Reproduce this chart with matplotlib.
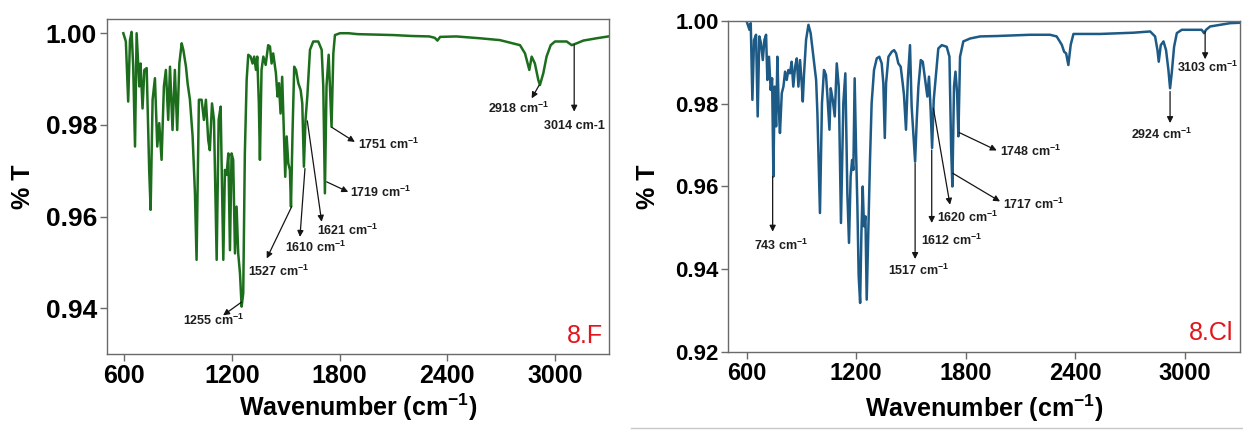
import matplotlib
matplotlib.use('Agg')
import matplotlib.pyplot as plt
from matplotlib.lines import Line2D

plt.rcParams['font.family'] = ['Liberation Sans', 'DejaVu Sans']
plt.rcParams['mathtext.fontset'] = 'custom'
plt.rcParams['mathtext.rm'] = 'Liberation Sans'
plt.rcParams['mathtext.bf'] = 'Liberation Sans:bold'
plt.rcParams['mathtext.it'] = 'Liberation Sans:italic'

# ---- 8.F spectrum (wavenumber, %T) ----
wn_f = [595, 609, 622, 632, 641, 650, 660, 669, 684, 691, 702, 712, 725, 739, 747,
        758, 771, 784, 795, 808, 821, 832, 845, 855, 869, 882, 895, 907, 920, 929,
        944, 953, 966, 981, 994, 1003, 1016, 1031, 1044, 1055, 1068, 1077, 1089, 1100,
        1115, 1126, 1137, 1152, 1161, 1170, 1180, 1189, 1198, 1207, 1217, 1226, 1235,
        1245, 1254, 1263, 1272, 1282, 1291, 1304, 1315, 1324, 1334, 1341, 1350, 1356,
        1365, 1375, 1388, 1402, 1412, 1421, 1430, 1445, 1454, 1462, 1471, 1480, 1490,
        1497, 1505, 1514, 1523, 1529, 1538, 1547, 1557, 1570, 1583, 1592, 1601, 1610,
        1620, 1635, 1653, 1681, 1700, 1709, 1718, 1727, 1739, 1746, 1755, 1765, 1774,
        1802, 1850, 1900, 2000, 2100, 2200, 2300, 2330, 2345, 2360, 2450, 2550, 2582,
        2693, 2805, 2833, 2857, 2870, 2888, 2907, 2916, 2935, 2953, 2976, 3000, 3065,
        3093, 3121, 3158, 3232, 3297]
t_f = [1.0000, 0.9982, 0.9851, 0.9985, 1.0003, 0.9927, 0.9753, 1.0000, 0.9884, 0.9934,
       0.9836, 0.9920, 0.9924, 0.9702, 0.9615, 0.9855, 0.9902, 0.9753, 0.9804, 0.9724,
       0.9884, 0.9920, 0.9811, 0.9927, 0.9789, 0.9920, 0.9789, 0.9934, 0.9978, 0.9964,
       0.9927, 0.9891, 0.9855, 0.9775, 0.9651, 0.9506, 0.9855, 0.9855, 0.9811, 0.9855,
       0.9767, 0.9745, 0.9847, 0.9811, 0.9506, 0.9811, 0.9840, 0.9506, 0.9702, 0.9691,
       0.9738, 0.9527, 0.9738, 0.9724, 0.9520, 0.9622, 0.9520, 0.9476, 0.9404, 0.9433,
       0.9738, 0.9898, 0.9953, 0.9949, 0.9934, 0.9949, 0.9920, 0.9949, 0.9847, 0.9724,
       0.9920, 0.9949, 0.9931, 0.9974, 0.9971, 0.9934, 0.9956, 0.9913, 0.9862, 0.9891,
       0.9825, 0.9905, 0.9775, 0.9687, 0.9775, 0.9716, 0.9702, 0.9622, 0.9789, 0.9927,
       0.9920, 0.9891, 0.9876, 0.9847, 0.9709, 0.9811, 0.9862, 0.9964, 0.9982, 0.9982,
       0.9964, 0.9884, 0.9651, 0.9884, 0.9953, 0.9884, 0.9796, 0.9956, 0.9996, 1.0000,
       1.0000, 0.9998, 0.9997, 0.9996, 0.9994, 0.9993, 0.9990, 0.9984, 0.9992, 0.9993,
       0.9990, 0.9989, 0.9985, 0.9974, 0.9956, 0.9920, 0.9949, 0.9934, 0.9898, 0.9887,
       0.9913, 0.9949, 0.9974, 0.9982, 0.9982, 0.9974, 0.9978, 0.9984, 0.9989, 0.9993]

# ---- 8.Cl spectrum ----
wn_cl = [600, 615, 622, 631, 640, 651, 660, 669, 678, 688, 697, 706, 713, 722, 731,
         739, 746, 753, 761, 768, 775, 782, 792, 801, 810, 819, 828, 837, 846, 855,
         865, 874, 883, 892, 901, 907, 914, 925, 938, 950, 965, 980, 987, 1001, 1012,
         1023, 1034, 1042, 1053, 1060, 1071, 1082, 1093, 1104, 1116, 1129, 1140, 1151,
         1160, 1169, 1177, 1184, 1191, 1199, 1206, 1213, 1221, 1228, 1235, 1242, 1250,
         1257, 1266, 1275, 1284, 1297, 1312, 1326, 1339, 1348, 1356, 1363, 1376, 1394,
         1407, 1418, 1430, 1443, 1454, 1461, 1472, 1482, 1494, 1503, 1513, 1522, 1531,
         1540, 1553, 1564, 1576, 1589, 1598, 1607, 1615, 1624, 1637, 1649, 1668, 1695,
         1710, 1719, 1726, 1735, 1743, 1752, 1759, 1768, 1786, 1823, 1878, 1969, 2151,
         2261, 2297, 2325, 2338, 2349, 2361, 2374, 2389, 2535, 2717, 2809, 2836, 2849,
         2856, 2867, 2882, 2896, 2909, 2918, 2927, 2940, 2955, 2982, 3091, 3104, 3115,
         3137, 3247, 3301]
t_cl = [0.9998, 0.9978, 0.9994, 0.9809, 0.9953, 0.9966, 0.9769, 0.9962, 0.9946, 0.9905,
        0.9954, 0.9966, 0.9857, 0.9913, 0.9833, 0.9861, 0.9624, 0.9841, 0.9745, 0.9913,
        0.9793, 0.9729, 0.9825, 0.9841, 0.9877, 0.9857, 0.9881, 0.9873, 0.9901, 0.9841,
        0.9889, 0.9909, 0.9841, 0.9905, 0.9849, 0.9805, 0.9873, 0.9954, 0.9990, 0.9970,
        0.9913, 0.9857, 0.9777, 0.9536, 0.9801, 0.9881, 0.9869, 0.9817, 0.9737, 0.9837,
        0.9809, 0.9769, 0.9897, 0.9841, 0.9512, 0.9801, 0.9873, 0.9584, 0.9464, 0.9624,
        0.9664, 0.9640, 0.9861, 0.9681, 0.9552, 0.9384, 0.9319, 0.9488, 0.9600, 0.9504,
        0.9528, 0.9327, 0.9496, 0.9664, 0.9801, 0.9881, 0.9909, 0.9913, 0.9897, 0.9849,
        0.9717, 0.9849, 0.9913, 0.9925, 0.9929, 0.9921, 0.9897, 0.9889, 0.9849, 0.9821,
        0.9737, 0.9857, 0.9941, 0.9793, 0.9721, 0.9660, 0.9761, 0.9841, 0.9905, 0.9901,
        0.9861, 0.9817, 0.9865, 0.9785, 0.9693, 0.9809, 0.9873, 0.9933, 0.9941, 0.9937,
        0.9913, 0.9697, 0.9600, 0.9841, 0.9877, 0.9825, 0.9721, 0.9913, 0.9950, 0.9957,
        0.9962, 0.9963, 0.9966, 0.9966, 0.9962, 0.9942, 0.9925, 0.9921, 0.9893, 0.9942,
        0.9968, 0.9968, 0.9971, 0.9974, 0.9962, 0.9929, 0.9901, 0.9941, 0.9950, 0.9929,
        0.9881, 0.9837, 0.9873, 0.9937, 0.9970, 0.9978, 0.9978, 0.9970, 0.9978, 0.9986,
        0.9994, 0.9995]

xticks = [600, 1200, 1800, 2400, 3000]
yticks_f = [0.94, 0.96, 0.98, 1.00]
yticks_cl = [0.92, 0.94, 0.96, 0.98, 1.00]

# peak labels: (text, tail on spectrum, arrow head, text anchor, ha)
CM = r' cm$^{\mathbf{-1}}$'
peaks_f = [
    ('1751' + CM, (1756, 0.9795), (1885, 0.9763), (1904, 0.9758), 'left'),
    ('1719' + CM, (1728, 0.9676), (1848, 0.9654), (1858, 0.9652), 'left'),
    ('1621' + CM, (1620, 0.9809), (1700, 0.9589), (1675, 0.9571), 'left'),
    ('1610' + CM, (1607, 0.9705), (1579, 0.9556), (1495, 0.9533), 'left'),
    ('1527' + CM, (1533, 0.9622), (1394, 0.9509), (1291, 0.9480), 'left'),
    ('1255' + CM, (1254, 0.9414), (1151, 0.9385), (927, 0.9374), 'left'),
    ('2918' + CM, (2912, 0.9887), (2870, 0.9858), (2798, 0.9836), 'center'),
    ('3014 cm-1', (3107, 0.99745), (3107, 0.9829), (3111, 0.9798), 'center'),
]
peaks_cl = [
    ('743' + CM, (742, 0.9624), (742, 0.9491), (787, 0.9459), 'center'),
    ('1517' + CM, (1522, 0.9656), (1522, 0.9425), (1540, 0.9398), 'center'),
    ('1612' + CM, (1613, 0.9688), (1613, 0.9512), (1723, 0.9471), 'center'),
    ('1620' + CM, (1622, 0.9789), (1713, 0.9556), (1812, 0.9526), 'center'),
    ('1748' + CM, (1764, 0.9730), (1969, 0.9687), (1987, 0.9684), 'left'),
    ('1717' + CM, (1728, 0.9632), (1987, 0.9564), (2004, 0.9556), 'left'),
    ('2924' + CM, (2918, 0.9829), (2918, 0.9753), (2873, 0.9725), 'center'),
    ('3103' + CM, (3110, 0.99735), (3110, 0.9907), (3126, 0.9888), 'center'),
]

fig = plt.figure(figsize=(12.43, 4.30), dpi=100)
ax1 = fig.add_axes([0.0858, 0.176, 0.4043, 0.7798])
ax2 = fig.add_axes([0.5859, 0.1807, 0.4117, 0.7712])


def style_axis(ax, xfs, yfs):
    for sp in ax.spines.values():
        sp.set_color('#6a6a6a')
        sp.set_linewidth(1.0)
    ax.tick_params(direction='out', length=5, width=1, color='#6a6a6a', pad=2)
    ax.tick_params(axis='x', labelsize=xfs)
    ax.tick_params(axis='y', labelsize=yfs)
    for lab in ax.get_xticklabels() + ax.get_yticklabels():
        lab.set_fontweight('bold')


def draw_peaks(ax, peaks):
    for text, tail, head, pos, ha in peaks:
        ax.annotate('', xy=head, xytext=tail,
                    arrowprops=dict(arrowstyle='-|>', color='#151515', lw=0.9,
                                    shrinkA=0, shrinkB=0, mutation_scale=9))
        ax.text(pos[0], pos[1], text, fontsize=9, fontweight='bold',
                color='#1e1e1e', ha=ha, va='center')


# left panel: 8.F
ax1.plot(wn_f, t_f, color='#1c6e1c', lw=1.8)
ax1.set_xlim(502, 3302)
ax1.set_ylim(0.930, 1.0031)
ax1.set_xticks(xticks)
ax1.set_yticks(yticks_f)
ax1.set_yticklabels(['%.2f' % v for v in yticks_f])
style_axis(ax1, 18, 19)
ax1.set_xlabel(r'Wavenumber (cm$^{\mathbf{-1}}$)', fontsize=18, fontweight='bold')
ax1.set_ylabel('% T', fontsize=18, fontweight='bold')
ax1.xaxis.set_label_coords(0.5, -0.112)
ax1.yaxis.set_label_coords(-0.143, 0.5)
draw_peaks(ax1, peaks_f)
ax1.text(0.987, 0.034, '8.F', transform=ax1.transAxes, fontsize=18,
         color='#e3141b', ha='right', va='baseline')

# right panel: 8.Cl
ax2.plot(wn_cl, t_cl, color='#1d5a86', lw=1.8)
ax2.set_xlim(499, 3301)
ax2.set_ylim(0.92, 1.00)
ax2.set_xticks(xticks)
ax2.set_yticks(yticks_cl)
ax2.set_yticklabels(['%.2f' % v for v in yticks_cl])
style_axis(ax2, 17, 16)
ax2.set_xlabel(r'Wavenumber (cm$^{\mathbf{-1}}$)', fontsize=18, fontweight='bold')
ax2.set_ylabel('% T', fontsize=18, fontweight='bold')
ax2.xaxis.set_label_coords(0.5, -0.123)
ax2.yaxis.set_label_coords(-0.133, 0.5)
draw_peaks(ax2, peaks_cl)
ax2.text(0.987, 0.037, '8.Cl', transform=ax2.transAxes, fontsize=18,
         color='#e3141b', ha='right', va='baseline')

# thin grey rule under the right panel
fig.add_artist(Line2D([0.508, 1.0], [0.005, 0.005], transform=fig.transFigure,
                      color='#c8c8c8', lw=1))

fig.savefig('out.png', dpi=100)
